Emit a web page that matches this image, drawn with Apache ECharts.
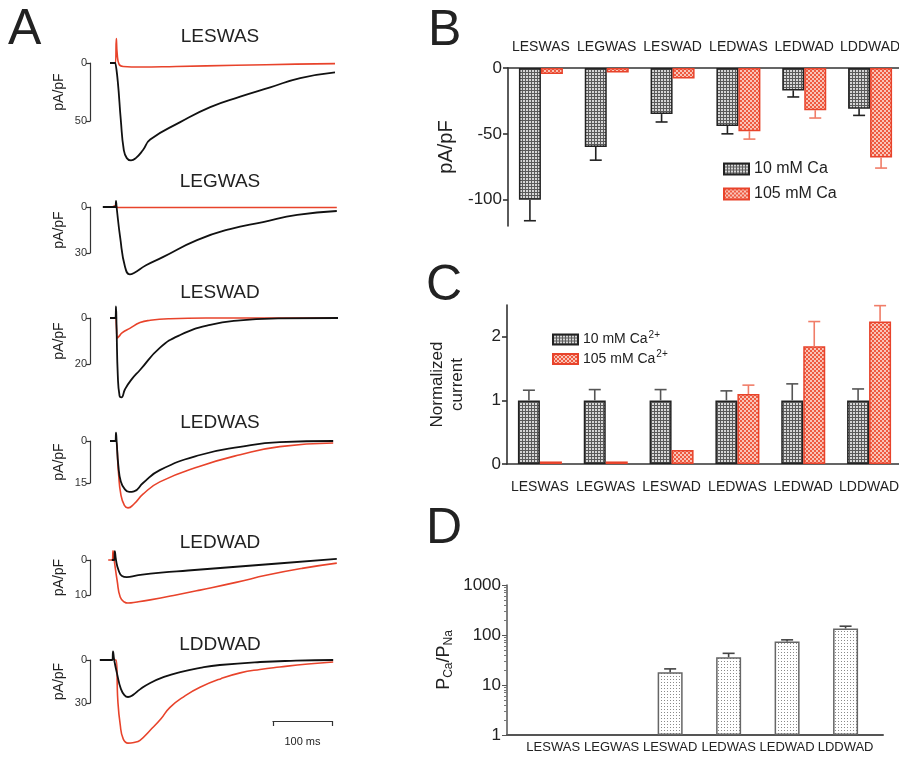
<!DOCTYPE html>
<html>
<head>
<meta charset="UTF-8">
<title>Ca2+ permeation of mutant channels</title>
<script src="https://cdn.jsdelivr.net/npm/echarts@6/dist/echarts.min.js"></script>
<style>
    html, body {margin: 0; padding: 0; background: #fff;}
    #main {width: 899px; height: 760px;}
</style>
</head>
<body>
<div id="main"></div>
<script>
    // constructs
    var groups = ['LESWAS', 'LEGWAS', 'LESWAD', 'LEDWAS', 'LEDWAD', 'LDDWAD'];

    // A: example traces, [time (ms), inward current (pA/pF)]; black = 10 mM Ca, red = 105 mM Ca
    var leswas10 = [[-10, 0], [-1, 0], [0, 0], [3, 16], [8, 49], [13, 75], [18, 82], [25, 84], [33, 82], [45, 75], [57, 66], [107, 51], [157, 38], [207, 29], [257, 21], [307, 13], [365, 8]];
    var leswas105 = [[-10, 0], [-1, 0], [0.5, -21], [2, -8], [5, 1], [12, 3], [40, 3.5], [100, 3], [200, 2], [300, 1], [365, 0.5]];
    var legwas10 = [[-22, 0], [-1, 0], [0, -4], [1, 0], [7, 20], [15, 39], [23, 44], [30, 43], [50, 38], [78, 32.7], [135, 21.6], [190, 14.4], [245, 9.8], [302, 5.2], [368, 2.6]];
    var legwas105 = [[-6, 0], [0, -1], [2, 0.3], [100, 0.3], [368, 0.3]];
    var leswad10 = [[-10, 0], [-1, 0], [0, -5], [1, 5], [3, 25], [6, 34], [9, 34.5], [15, 31], [25, 27], [40, 22.6], [73, 13], [107, 7.4], [157, 3], [207, 1], [270, 0.2], [370, 0]];
    var leswad105 = [[0, 0], [1, 5], [2, 8.7], [5, 8], [10, 6.5], [23, 4.5], [40, 2], [57, 1], [90, 0.3], [150, 0], [370, 0]];
    var ledwas10 = [[-10, 0], [-1, 0], [0, -3], [1, 0], [4, 9], [8, 14.5], [14, 17], [22, 18.2], [30, 18], [45, 15], [73, 10.4], [140, 5], [207, 2.1], [273, 0.4], [362, 0]];
    var ledwas105 = [[-2, 0], [0, 0], [4, 11], [8, 19], [14, 23], [20, 23.9], [30, 22.5], [45, 19], [73, 14.6], [140, 9], [207, 4.9], [273, 2], [362, 0.7]];
    var ledwad10 = [[-7, 0], [-3, 0], [-2, -2.5], [0, 0], [4, 2.8], [10, 4.6], [18, 4.9], [35, 4.4], [75, 3.6], [120, 3], [195, 2], [270, 1], [368, -0.3]];
    var ledwad105 = [[-13, 0], [-6, 0], [-5, -2.6], [-3, 0], [2, 6], [7, 10.6], [14, 12], [20, 12.3], [35, 12], [57, 11.4], [100, 10], [140, 8.6], [200, 6.4], [252, 4.3], [310, 2.4], [368, 0.9]];
    var lddwad10 = [[-27, 0], [-6, 0], [-5, -6], [-3, 0], [2, 10], [8, 20], [14, 24.5], [20, 25.8], [28, 24.5], [40, 20.5], [57, 16], [80, 11.8], [107, 8.4], [140, 5.5], [173, 3.5], [240, 1.4], [300, 0.5], [362, 0]];
    var lddwad105 = [[-3, 0], [0, 0], [3, 28], [7, 45], [12, 55], [20, 58], [30, 57.5], [40, 56], [57, 49], [75, 41], [90, 33], [115, 25], [140, 19], [175, 13], [207, 9], [240, 6.6], [273, 4.9], [320, 2.8], [362, 1.4]];
    var scaleBars = [50, 30, 20, 15, 10, 30];   // pA/pF scale bar of each trace
    var timeBar = 100;                           // ms

    // B: current density (pA/pF), mean and mean - SEM
    var bCa10 = [-100, -60, -35, -44, -17, -31];
    var bCa10Err = [-116, -70, -41, -50, -22, -36];
    var bCa105 = [-4.5, -3.5, -8, -48, -32, -68];
    var bCa105Err = [null, null, null, -54, -38, -76];

    // C: normalized current
    var cCa10 = [1, 1, 1, 1, 1, 1];
    var cCa10Err = [1.16, 1.17, 1.17, 1.15, 1.26, 1.18];
    var cCa105 = [0.04, 0.04, 0.22, 1.1, 1.85, 2.24];
    var cCa105Err = [null, null, null, 1.24, 2.24, 2.49];

    // D: PCa/PNa
    var dRatio = [null, null, 18, 36, 74, 135];
    var dRatioErr = [null, null, 21, 43, 80, 150];

    var traces = [
        {name: 'LESWAS', low: leswas10, high: leswas105, zeroY: 63, barPx: 58, titleY: 37},
        {name: 'LEGWAS', low: legwas10, high: legwas105, zeroY: 207, barPx: 46, titleY: 182},
        {name: 'LESWAD', low: leswad10, high: leswad105, zeroY: 318, barPx: 46, titleY: 293},
        {name: 'LEDWAS', low: ledwas10, high: ledwas105, zeroY: 441, barPx: 42, titleY: 423},
        {name: 'LEDWAD', low: ledwad10, high: ledwad105, zeroY: 560, barPx: 35, titleY: 543},
        {name: 'LDDWAD', low: lddwad10, high: lddwad105, zeroY: 660, barPx: 43, titleY: 645}
    ];

    var FONT = '"Liberation Sans", Arial, Helvetica, sans-serif';
    var RED = '#e8432b';
    var INK = '#222';

    // fill patterns for the bars
    function pattern(size, draw) {
        var c = document.createElement('canvas');
        c.width = size;
        c.height = size;
        draw(c.getContext('2d'));
        return {image: c, repeat: 'repeat'};
    }

    var greyGrid = pattern(3, function (g) {
        g.fillStyle = '#d6d6d6';
        g.fillRect(0, 0, 3, 3);
        g.fillStyle = '#5a5a5a';
        g.fillRect(0, 0, 3, 1);
        g.fillRect(0, 0, 1, 3);
    });
    var redCheck = pattern(4, function (g) {
        g.fillStyle = '#f9c4b8';
        g.fillRect(0, 0, 4, 4);
        g.fillStyle = '#ee5a40';
        g.fillRect(0, 0, 2, 2);
        g.fillRect(2, 2, 2, 2);
    });
    var dots = pattern(3, function (g) {
        g.fillStyle = '#fff';
        g.fillRect(0, 0, 3, 3);
        g.fillStyle = '#8a8a8a';
        g.fillRect(1, 1, 1, 1);
    });

    var grids = [], xAxes = [], yAxes = [], series = [], texts = [];

    function hiddenAxis(extra) {
        return Object.assign({show: false, type: 'value', splitLine: {show: false}}, extra);
    }

    // panel A traces: 0.6 px per ms, onset at x = 116
    traces.forEach(function (tr, i) {
        var ppu = tr.barPx / scaleBars[i];
        grids.push({left: 98, width: 243, top: tr.zeroY - 35, height: 140, outerBoundsMode: 'none'});
        xAxes.push(hiddenAxis({gridIndex: i, min: -30, max: 375}));
        yAxes.push(hiddenAxis({gridIndex: i, inverse: true, min: -35 / ppu, max: 105 / ppu}));
        series.push({
            type: 'line', name: tr.name + ' 105', xAxisIndex: i, yAxisIndex: i, data: tr.high,
            showSymbol: false, smooth: 0.5, silent: true,
            lineStyle: {color: RED, width: 1.6}
        });
        series.push({
            type: 'line', name: tr.name + ' 10', xAxisIndex: i, yAxisIndex: i, data: tr.low,
            showSymbol: false, smooth: 0.5, silent: true,
            lineStyle: {color: '#111', width: 1.8}
        });
        texts.push({
            type: 'text', x: 220, y: tr.titleY,
            style: {text: tr.name, align: 'center', verticalAlign: 'middle', font: '19px ' + FONT, fill: INK}
        });
    });

    // panel A scale bars
    traces.forEach(function (tr, i) {
        var gi = grids.length;
        grids.push({left: 90, width: 10, top: tr.zeroY, height: tr.barPx, outerBoundsMode: 'none'});
        xAxes.push(hiddenAxis({gridIndex: gi, min: 0, max: 1}));
        yAxes.push({
            gridIndex: gi, type: 'value', inverse: true, min: 0, max: scaleBars[i], interval: scaleBars[i],
            axisLine: {show: true, lineStyle: {color: '#333', width: 1.2}},
            axisTick: {show: true, length: 4, lineStyle: {color: '#333', width: 1.2}},
            axisLabel: {fontSize: 11, margin: 3, color: '#333', fontFamily: FONT},
            splitLine: {show: false},
            name: 'pA/pF', nameLocation: 'middle', nameGap: 24,
            nameTextStyle: {fontSize: 14, color: INK, fontFamily: FONT}
        });
    });

    // time scale bar
    var tg = grids.length;
    grids.push({left: 273, width: 59, top: 720, height: 1, outerBoundsMode: 'none'});
    xAxes.push({
        gridIndex: tg, type: 'value', min: 0, max: timeBar, interval: timeBar,
        axisLine: {show: true, lineStyle: {color: '#333', width: 1.2}},
        axisTick: {show: true, length: 5, lineStyle: {color: '#333', width: 1.2}},
        axisLabel: {show: false}, splitLine: {show: false},
        name: timeBar + ' ms', nameLocation: 'middle', nameGap: 15,
        nameTextStyle: {fontSize: 11, color: INK, fontFamily: FONT}
    });
    yAxes.push(hiddenAxis({gridIndex: tg, min: 0, max: 1}));

    // error bars drawn through the axes
    function errorSeries(gi, vals, errs, offset, color) {
        var data = [];
        vals.forEach(function (v, k) {
            if (v != null && errs[k] != null) data.push([k, v, errs[k]]);
        });
        return {
            type: 'custom', xAxisIndex: gi, yAxisIndex: gi, data: data, silent: true, z: 3,
            encode: {x: 0, y: [1, 2]},
            renderItem: function (params, api) {
                var a = api.coord([api.value(0), api.value(1)]);
                var b = api.coord([api.value(0), api.value(2)]);
                var x = a[0] + offset;
                var st = {stroke: color, lineWidth: 1.6};
                return {
                    type: 'group', children: [
                        {type: 'line', shape: {x1: x, y1: a[1], x2: x, y2: b[1]}, style: st},
                        {type: 'line', shape: {x1: x - 6, y1: b[1], x2: x + 6, y2: b[1]}, style: st}
                    ]
                };
            }
        };
    }

    var axisInk = {color: '#333', width: 1.6};
    var tickLabel = {fontSize: 17, color: INK, fontFamily: FONT, margin: 6};

    // panel B
    var gB = grids.length;
    grids.push({left: 508, top: 68, width: 395, height: 158, outerBoundsMode: 'none'});
    xAxes.push({
        gridIndex: gB, type: 'category', data: groups, position: 'top',
        axisLine: {lineStyle: axisInk}, axisTick: {show: false},
        axisLabel: {interval: 0, fontSize: 14, color: INK, fontFamily: FONT, margin: 14}
    });
    yAxes.push({
        gridIndex: gB, type: 'value', min: -120, max: 0,
        axisLine: {show: true, onZero: false, lineStyle: axisInk},
        axisTick: {show: true, length: 5, customValues: [0, -50, -100], lineStyle: axisInk},
        axisLabel: Object.assign({customValues: [0, -50, -100]}, tickLabel),
        splitLine: {show: false},
        name: 'pA/pF', nameLocation: 'middle', nameGap: 52,
        nameTextStyle: {fontSize: 20, color: INK, fontFamily: FONT}
    });
    series.push({
        type: 'bar', name: '10 mM Ca', xAxisIndex: gB, yAxisIndex: gB, data: bCa10,
        barWidth: 22, barGap: '0%', itemStyle: {color: greyGrid, borderColor: '#222', borderWidth: 1.5}
    });
    series.push({
        type: 'bar', name: '105 mM Ca', xAxisIndex: gB, yAxisIndex: gB, data: bCa105,
        barWidth: 22, barGap: '0%', itemStyle: {color: redCheck, borderColor: RED, borderWidth: 1.5}
    });
    series.push(errorSeries(gB, bCa10, bCa10Err, -11, '#222'));
    series.push(errorSeries(gB, bCa105, bCa105Err, 11, '#f07d68'));

    // panel C
    var gC = grids.length;
    grids.push({left: 507, top: 305, width: 395, height: 159, outerBoundsMode: 'none'});
    xAxes.push({
        gridIndex: gC, type: 'category', data: groups,
        axisLine: {lineStyle: axisInk}, axisTick: {show: false},
        axisLabel: {interval: 0, fontSize: 14, color: INK, fontFamily: FONT, margin: 16}
    });
    yAxes.push({
        gridIndex: gC, type: 'value', min: 0, max: 2.5,
        axisLine: {show: true, onZero: false, lineStyle: axisInk},
        axisTick: {show: true, length: 5, customValues: [0, 1, 2], lineStyle: axisInk},
        axisLabel: Object.assign({customValues: [0, 1, 2]}, tickLabel),
        splitLine: {show: false},
        name: 'Normalized\ncurrent', nameLocation: 'middle', nameGap: 40,
        nameTextStyle: {fontSize: 17, lineHeight: 20, color: INK, fontFamily: FONT}
    });
    series.push({
        type: 'bar', name: '10 mM Ca2+', xAxisIndex: gC, yAxisIndex: gC, data: cCa10,
        barWidth: 22, barGap: '0%', itemStyle: {color: greyGrid, borderColor: '#222', borderWidth: 1.5}
    });
    series.push({
        type: 'bar', name: '105 mM Ca2+', xAxisIndex: gC, yAxisIndex: gC, data: cCa105,
        barWidth: 22, barGap: '0%', itemStyle: {color: redCheck, borderColor: RED, borderWidth: 1.5}
    });
    series.push(errorSeries(gC, cCa10, cCa10Err, -11, '#555'));
    series.push(errorSeries(gC, cCa105, cCa105Err, 11, '#f07d68'));

    // panel D: value x axis so the bars sit 58.5 px apart
    var gD = grids.length;
    grids.push({left: 507, top: 585, width: 376, height: 150, outerBoundsMode: 'none'});
    xAxes.push({
        gridIndex: gD, type: 'value', min: -0.79, max: 5.64,
        axisLine: {show: true, onZero: false, lineStyle: {color: '#555', width: 2}}, axisTick: {show: false},
        splitLine: {show: false},
        axisLabel: {
            customValues: [0, 1, 2, 3, 4, 5], fontSize: 13, color: INK, fontFamily: FONT, margin: 6,
            formatter: function (v) { return groups[Math.round(v)]; }
        }
    });
    yAxes.push({
        gridIndex: gD, type: 'log', logBase: 10, min: 1, max: 1000,
        axisLine: {show: true, onZero: false, lineStyle: {color: '#555', width: 1.5}},
        axisTick: {show: true, length: 5, lineStyle: {color: '#555'}},
        minorTick: {show: true, splitNumber: 9, length: 3, lineStyle: {color: '#777'}},
        axisLabel: Object.assign({formatter: function (v) { return String(Math.round(v)); }}, tickLabel),
        splitLine: {show: false},
        name: '{p|P}{s|Ca}{p|/P}{s|Na}', nameLocation: 'middle', nameGap: 52,
        nameTextStyle: {
            color: INK, fontFamily: FONT,
            rich: {
                p: {fontSize: 18, color: INK, fontFamily: FONT},
                s: {fontSize: 12, color: INK, fontFamily: FONT, padding: [9, 0, 0, 0]}
            }
        }
    });
    series.push({
        type: 'bar', name: 'PCa/PNa', xAxisIndex: gD, yAxisIndex: gD,
        data: dRatio.map(function (v, k) { return v == null ? [k, '-'] : [k, v]; }),
        barWidth: 25, itemStyle: {color: dots, borderColor: '#666', borderWidth: 1.5}
    });
    series.push(errorSeries(gD, dRatio, dRatioErr, 0, '#444'));

    // panel letters
    [['A', 8, 30], ['B', 428, 31], ['C', 426, 286], ['D', 426, 529]].forEach(function (l) {
        texts.push({
            type: 'text', x: l[1], y: l[2],
            style: {text: l[0], align: 'left', verticalAlign: 'middle', font: '50px ' + FONT, fill: INK}
        });
    });

    var chart = echarts.init(document.getElementById('main'), null, {renderer: 'canvas'});
    chart.setOption({
        backgroundColor: '#fff',
        animation: false,
        textStyle: {fontFamily: FONT},
        grid: grids,
        xAxis: xAxes,
        yAxis: yAxes,
        legend: [{
            data: ['10 mM Ca', '105 mM Ca'], orient: 'vertical', left: 718, top: 156,
            icon: 'rect', itemWidth: 25, itemHeight: 11, itemGap: 9,
            textStyle: {fontSize: 16, color: INK, fontFamily: FONT}, selectedMode: false
        }, {
            data: ['10 mM Ca2+', '105 mM Ca2+'], orient: 'vertical', left: 547, top: 325,
            icon: 'rect', itemWidth: 25, itemHeight: 10, itemGap: 3, selectedMode: false,
            formatter: function (n) { return n.replace('Ca2+', 'Ca{sup|2+}'); },
            textStyle: {
                fontSize: 14, color: INK, fontFamily: FONT,
                rich: {sup: {fontSize: 10, color: INK, fontFamily: FONT, padding: [0, 0, 9, 1]}}
            }
        }],
        graphic: texts,
        series: series
    });
</script>
</body>
</html>
